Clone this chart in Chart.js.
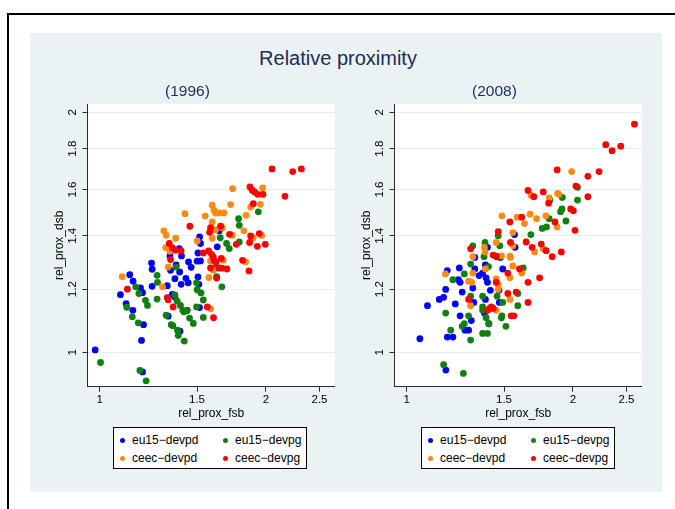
<!DOCTYPE html>
<html>
<head>
<meta charset="utf-8">
<script src="https://cdn.jsdelivr.net/npm/chart.js@4.4.1/dist/chart.umd.min.js"></script>
<style>
  html, body { margin: 0; padding: 0; background: #fff; }
  body { width: 675px; height: 509px; position: relative; overflow: hidden; font-family: "Liberation Sans", Arial, sans-serif; }
  .frame { position: absolute; left: 7px; top: 13px; width: 700px; height: 520px; border: 2px solid #000; box-sizing: border-box; }
  .region { position: absolute; left: 30px; top: 33px; width: 632px; height: 459px; background: #eaf2f3; }
  .main-title { position: absolute; left: 0; width: 676px; top: 45px; text-align: center; font-size: 20px; line-height: 26px; color: #1c2b5a; }
  canvas { position: absolute; top: 78px; }
  .legend { position: absolute; top: 427px; width: 194px; height: 42px; background: #fff; border: 1px solid #000; box-sizing: border-box; font-size: 12px; color: #000; }
  .legend .item { position: absolute; height: 14px; line-height: 14px; white-space: nowrap; }
  .legend .dot { position: absolute; left: 0; top: 4.5px; width: 5px; height: 5px; border-radius: 50%; }
  .legend .txt { position: absolute; left: 12px; top: 0; }
</style>
</head>
<body>
<div class="frame"></div>
<div class="region"></div>
<div class="main-title">Relative proximity</div>
<canvas id="c1996" width="300" height="344" style="left:39.5px"></canvas>
<canvas id="c2008" width="300" height="344" style="left:347px"></canvas>
<div class="legend" id="leg1996" style="left:113px"></div>
<div class="legend" id="leg2008" style="left:421px"></div>

<script>
// ── axis setup (both panels share the log ranges) ──
const xTicks = [1, 1.5, 2, 2.5];
const yTicks = [1, 1.2, 1.4, 1.6, 1.8, 2];
const xRange = [0.95, 2.665];
const yRange = [0.9055, 2.048];

const seriesNames = ['eu15\u2212devpd', 'eu15\u2212devpg', 'ceec\u2212devpd', 'ceec\u2212devpg'];
const seriesColors = ['#0000ff', '#108010', '#ff8a12', '#ff0000'];

// ── 1996: [rel_prox_fsb, rel_prox_dsb] ──
const eu15Devpd1996 = [[0.981,1.007],[1.090,1.181],[1.116,1.151],[1.133,1.251],[1.149,1.228],[1.148,1.129],[1.185,1.204],[1.195,1.188],[1.200,1.083],[1.190,1.035],[1.195,0.945],[1.241,1.294],[1.244,1.271],[1.244,1.210],[1.325,1.212],[1.340,1.321],[1.343,1.349],[1.343,1.267],[1.375,1.287],[1.368,1.237],[1.353,1.182],[1.393,1.349],[1.395,1.261],[1.406,1.321],[1.404,1.217],[1.432,1.238],[1.448,1.298],[1.446,1.222],[1.464,1.278],[1.440,1.129],[1.397,1.063],[1.506,1.332],[1.516,1.395],[1.522,1.369],[1.501,1.301],[1.522,1.302],[1.506,1.243],[1.512,1.217],[1.516,1.138],[1.632,1.356],[1.637,1.276],[1.646,1.420],[1.368,1.173],[1.330,1.110]];
const eu15Devpg1996 = [[1.003,0.971],[1.182,0.949],[1.213,0.921],[1.119,1.139],[1.145,1.108],[1.162,1.208],[1.177,1.185],[1.210,1.162],[1.220,1.145],[1.174,1.089],[1.270,1.249],[1.272,1.224],[1.270,1.166],[1.319,1.113],[1.347,1.083],[1.356,1.080],[1.375,1.279],[1.368,1.180],[1.381,1.159],[1.400,1.145],[1.414,1.129],[1.436,1.127],[1.454,1.104],[1.477,1.087],[1.383,1.066],[1.387,1.050],[1.422,1.033],[1.497,1.222],[1.501,1.198],[1.525,1.187],[1.540,1.163],[1.540,1.106],[1.497,1.140],[1.623,1.279],[1.664,1.208],[1.653,1.392],[1.697,1.369],[1.716,1.349],[1.784,1.471],[1.789,1.443],[1.789,1.375],[1.937,1.500],[1.628,1.244],[1.420,1.124]];
const ceecDevpd1996 = [[1.098,1.244],[1.299,1.208],[1.306,1.420],[1.319,1.402],[1.316,1.353],[1.330,1.279],[1.340,1.339],[1.372,1.390],[1.426,1.492],[1.501,1.379],[1.552,1.482],[1.598,1.529],[1.610,1.507],[1.621,1.495],[1.598,1.457],[1.598,1.390],[1.644,1.495],[1.678,1.495],[1.587,1.302],[1.605,1.267],[1.576,1.241],[1.667,1.433],[1.674,1.304],[1.726,1.532],[1.740,1.604],[1.738,1.402],[1.824,1.420],[1.840,1.485],[1.837,1.298],[1.876,1.521],[1.897,1.392],[1.953,1.533],[1.964,1.401],[1.972,1.607],[1.587,1.134],[1.621,1.425]];
const ceecDevpg1996 = [[1.122,1.200],[1.325,1.171],[1.358,1.140],[1.330,1.164],[1.336,1.369],[1.343,1.307],[1.354,1.352],[1.372,1.343],[1.404,1.340],[1.456,1.439],[1.540,1.332],[1.574,1.340],[1.581,1.414],[1.587,1.433],[1.594,1.327],[1.605,1.317],[1.610,1.304],[1.623,1.298],[1.655,1.439],[1.660,1.311],[1.664,1.275],[1.628,1.239],[1.587,1.276],[1.566,1.140],[1.607,1.105],[1.699,1.272],[1.718,1.406],[1.767,1.366],[1.814,1.304],[1.863,1.265],[1.871,1.612],[1.889,1.597],[1.897,1.536],[1.907,1.589],[1.932,1.578],[1.975,1.578],[1.876,1.399],[1.868,1.373],[1.929,1.358],[1.945,1.409],[1.994,1.366],[2.051,1.698],[2.165,1.569],[2.236,1.685],[2.318,1.698],[1.644,1.276]];

// ── 2008 ──
const eu15Devpd2008 = [[1.056,1.040],[1.090,1.144],[1.145,1.165],[1.166,1.172],[1.176,1.199],[1.184,1.266],[1.184,1.045],[1.212,1.045],[1.224,1.150],[1.240,1.233],[1.249,1.224],[1.245,1.276],[1.249,1.111],[1.260,1.190],[1.275,1.066],[1.294,1.066],[1.309,1.096],[1.317,1.204],[1.322,1.155],[1.328,1.272],[1.328,1.315],[1.352,1.248],[1.372,1.257],[1.388,1.287],[1.400,1.354],[1.392,1.240],[1.400,1.224],[1.417,1.196],[1.388,1.165],[1.382,1.120],[1.408,1.086],[1.457,1.318],[1.478,1.315],[1.492,1.272],[1.469,1.196],[1.471,1.155],[1.177,0.950],[1.567,1.405],[1.571,1.354]];
const eu15Devpg2008 = [[1.166,0.965],[1.266,0.941],[1.176,1.120],[1.201,1.066],[1.212,1.233],[1.260,1.078],[1.271,1.086],[1.305,1.036],[1.294,1.111],[1.305,1.176],[1.305,1.290],[1.271,1.254],[1.317,1.360],[1.372,1.176],[1.372,1.140],[1.372,1.129],[1.386,1.373],[1.380,1.318],[1.406,1.281],[1.392,1.105],[1.372,1.056],[1.400,1.056],[1.408,1.086],[1.457,1.176],[1.492,1.155],[1.487,1.111],[1.484,1.105],[1.512,1.078],[1.589,1.185],[1.589,1.144],[1.464,1.400],[1.474,1.360],[1.625,1.276],[1.678,1.405],[1.759,1.430],[1.791,1.436],[1.811,1.471],[1.817,1.552],[1.913,1.564],[1.899,1.501],[1.910,1.513],[1.942,1.461],[2.038,1.610],[2.038,1.552]];
const ceecDevpd2008 = [[1.175,1.254],[1.294,1.228],[1.311,1.224],[1.305,1.144],[1.317,1.318],[1.317,1.257],[1.382,1.354],[1.386,1.336],[1.388,1.272],[1.452,1.373],[1.452,1.236],[1.464,1.217],[1.464,1.199],[1.484,1.321],[1.537,1.320],[1.541,1.315],[1.556,1.283],[1.537,1.240],[1.537,1.165],[1.556,1.413],[1.556,1.360],[1.487,1.483],[1.584,1.477],[1.634,1.450],[1.615,1.257],[1.672,1.490],[1.718,1.471],[1.786,1.483],[1.811,1.562],[1.876,1.582],[1.886,1.578],[1.872,1.436],[1.767,1.348],[1.704,1.336],[1.989,1.685],[1.452,1.129],[1.680,1.573]];
const ceecDevpg2008 = [[1.305,1.348],[1.294,1.165],[1.400,1.129],[1.413,1.135],[1.423,1.140],[1.434,1.135],[1.464,1.417],[1.434,1.324],[1.452,1.320],[1.452,1.224],[1.524,1.257],[1.524,1.185],[1.578,1.190],[1.545,1.111],[1.563,1.111],[1.537,1.457],[1.541,1.373],[1.600,1.272],[1.615,1.477],[1.645,1.375],[1.658,1.224],[1.658,1.155],[1.740,1.240],[1.687,1.354],[1.752,1.367],[1.788,1.341],[1.834,1.318],[1.905,1.336],[1.855,1.457],[1.658,1.596],[1.699,1.567],[1.767,1.589],[1.807,1.538],[1.872,1.693],[1.981,1.513],[2.003,1.505],[2.017,1.422],[2.025,1.616],[2.128,1.662],[2.128,1.567],[2.230,1.685],[2.293,1.821],[2.354,1.790],[2.441,1.813],[2.585,1.932]];

const FONT = '"Liberation Sans", Arial, sans-serif';
const INK = '#000';
const AXIS = '#2a2a2a';

// white plot region behind the points
const plotBg = {
  id: 'plotBg',
  beforeDraw(chart) {
    const { ctx, chartArea: a } = chart;
    ctx.save();
    ctx.fillStyle = '#fff';
    ctx.fillRect(a.left, a.top, a.right - a.left, a.bottom - a.top);
    ctx.restore();
  }
};

function logAxis(range, ticks, title, extra) {
  return Object.assign({
    type: 'logarithmic',
    min: range[0],
    max: range[1],
    afterBuildTicks: s => { s.ticks = ticks.map(v => ({ value: v })); },
    ticks: {
      autoSkip: false,
      color: INK,
      font: { family: FONT, size: 11.5 },
      callback: v => String(v)
    },
    border: { display: true, color: AXIS, width: 1 },
    title: { display: true, text: title, color: INK, font: { family: FONT, size: 12 } }
  }, extra);
}

function makePanel(canvasId, legendId, year, groups) {
  const datasets = groups.map((pts, i) => ({
    label: seriesNames[i],
    data: pts.map(([x, y]) => ({ x, y })),
    backgroundColor: seriesColors[i],
    borderColor: seriesColors[i],
    borderWidth: 0,
    pointRadius: 3.4,
    pointHoverRadius: 3.4,
    order: groups.length - i   // later groups end up on top
  }));

  const x = logAxis(xRange, xTicks, 'rel_prox_fsb', {
    afterFit: s => { s.height = 35.3; }
  });
  x.ticks.maxRotation = 0;
  x.ticks.minRotation = 0;
  x.ticks.padding = 1.7;
  x.grid = { drawOnChartArea: false, tickLength: 5, tickColor: AXIS };
  x.title.padding = { top: 0, bottom: 0.8 };

  const y = logAxis(yRange, yTicks, 'rel_prox_dsb', {
    afterFit: s => { s.width = 47.5; }
  });
  y.ticks.minRotation = 90;
  y.ticks.maxRotation = 90;
  y.ticks.crossAlign = 'center';
  y.ticks.padding = 1.4;
  y.grid = { color: '#e6eef0', tickColor: AXIS, tickLength: 5 };
  y.title.padding = { top: 12.8, bottom: 0 };

  const chart = new Chart(document.getElementById(canvasId), {
    type: 'scatter',
    data: { datasets },
    options: {
      responsive: false,
      animation: false,
      events: [],
      layout: { padding: { left: 0, right: 5.2, top: 0, bottom: 0 } },
      plugins: {
        legend: { display: false },
        tooltip: { enabled: false },
        title: {
          display: true,
          text: '(' + year + ')',
          color: '#1c2b5a',
          font: { family: FONT, size: 15.5, weight: 'normal' },
          padding: { top: 4.7, bottom: 2.7 }
        }
      },
      scales: { x, y }
    },
    plugins: [plotBg]
  });

  // boxed 2x2 legend, same order as the series
  const leg = document.getElementById(legendId);
  leg.innerHTML = chart.data.datasets.map((d, i) => {
    const col = i % 2, row = Math.floor(i / 2);
    return `<div class="item" style="left:${6 + col * 103}px;top:${5 + row * 18}px">
      <span class="dot" style="background:${d.backgroundColor}"></span><span class="txt">${d.label}</span></div>`;
  }).join('');
  return chart;
}

makePanel('c1996', 'leg1996', 1996, [eu15Devpd1996, eu15Devpg1996, ceecDevpd1996, ceecDevpg1996]);
makePanel('c2008', 'leg2008', 2008, [eu15Devpd2008, eu15Devpg2008, ceecDevpd2008, ceecDevpg2008]);
</script>
</body>
</html>
